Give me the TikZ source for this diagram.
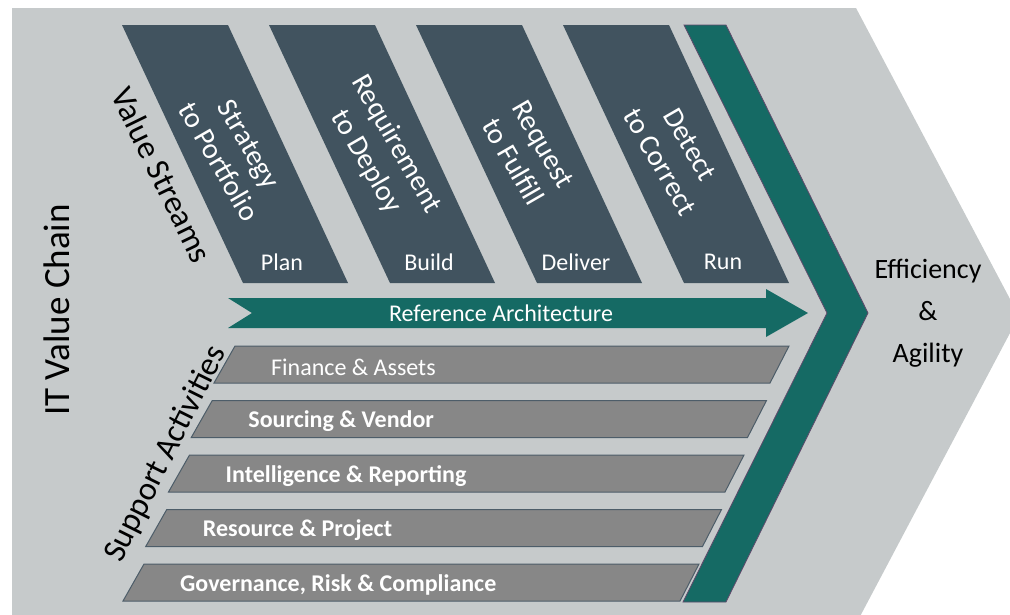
\documentclass[tikz,border=0pt]{standalone}
\usepackage{fontspec}
\setmainfont{Carlito}
\definecolor{bggray}{HTML}{C6CACB}
\definecolor{slate}{HTML}{41535F}
\definecolor{tealc}{HTML}{156A64}
\definecolor{bargray}{HTML}{878787}
\definecolor{barline}{HTML}{4D5D69}
\definecolor{tealline}{HTML}{5E4A6B}
\tikzset{
  vsbox/.style={fill=slate},
  barbox/.style={fill=bargray, draw=barline, line width=1pt},
  whitetxt/.style={text=white, inner sep=0pt},
  titletxt/.style={whitetxt, rotate=-60, align=center, font=\fontsize{29}{35}\selectfont},
  lbltxt/.style={whitetxt, font=\fontsize{24}{29}\selectfont},
  bartxt/.style={whitetxt, anchor=west, font=\fontsize{24}{29}\selectfont\bfseries},
  sidetxt/.style={inner sep=0pt, font=\fontsize{33}{40}\selectfont},
}
\begin{document}
\begin{tikzpicture}[x=1pt,y=-1pt]
\useasboundingbox (0,0) rectangle (1010,614);
\clip (0,0) rectangle (1010,614);
% background chevron
\fill[bggray] (12,8) -- (856,8) -- (1019,316) -- (856,624) -- (12,624) -- cycle;
% value stream boxes
\foreach \i/\t/\l in {0/{Strategy\\to Portfolio}/Plan, 1/{Requirement\\to Deploy}/Build, 2/{Request\\to Fulfill}/Deliver, 3/{Detect\\to Correct}/Run}{
  \pgfmathsetmacro{\xo}{122+147*\i}
  \fill[vsbox] (\xo,25) -- (\xo+106,25) -- (\xo+226,283) -- (\xo+121,283) -- cycle;
  \node[titletxt] (vs\i) at (\xo+112,153) {\t};
  \node[lbltxt] (lb\i) at (\xo+160,262) {\l};
}
% teal chevron
\draw[fill=tealc, draw=tealline, line width=0.8pt] (684,25) -- (726,25) -- (868,313) -- (726,602) -- (683,602) -- (827,313) -- cycle;
% reference architecture arrow
\fill[tealc] (228,298) -- (766,298) -- (766,289) -- (808,313) -- (766,337) -- (766,328) -- (228,328) -- (252,313) -- cycle;
\node[lbltxt] (refarch) at (501,313) {Reference Architecture};
% support bars
\foreach \i/\t in {0/{\mdseries Finance \& Assets}, 1/{Sourcing \& Vendor}, 2/{Intelligence \& Reporting}, 3/{Resource \& Project}, 4/{Governance, Risk \& Compliance}}{
  \pgfmathsetmacro{\yt}{346+54.5*\i}
  \pgfmathsetmacro{\lb}{214-22.75*\i}
  \pgfmathsetmacro{\rt}{789-22.5*\i}
  \draw[barbox] (\lb,\yt+37) -- (\lb+21,\yt) -- (\rt,\yt) -- (\rt-19,\yt+37) -- cycle;
  \node[bartxt] (sa\i) at (\lb+57,\yt+21) {\t};
}
% side labels
\node[rotate=90, inner sep=0pt, font=\fontsize{37}{44}\selectfont] (itvc) at (57,310) {IT Value Chain};
\node[sidetxt, rotate=-64] (vstreams) at (162,175) {Value Streams};
\node[sidetxt, rotate=63.5] (sact) at (166,454) {Support Activities};
\node[align=center, inner sep=0pt, font=\fontsize{28}{42}\selectfont] (eff) at (928,313) {Efficiency\\\&\\Agility};
\end{tikzpicture}
\end{document}
